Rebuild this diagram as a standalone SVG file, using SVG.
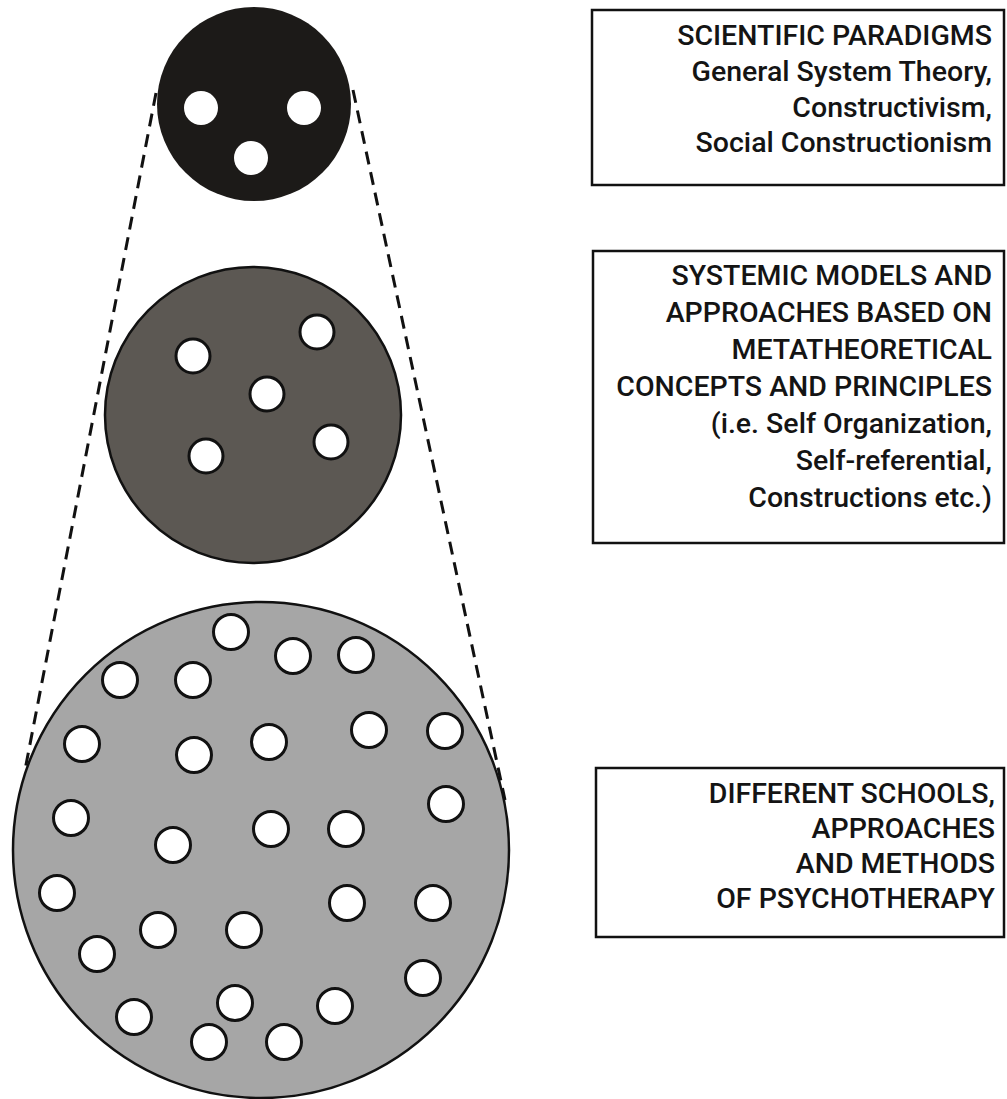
<svg xmlns="http://www.w3.org/2000/svg" width="1007" height="1099" viewBox="0 0 1007 1099">
<style>
.dot{fill:#ffffff;stroke:#111;stroke-width:3}
.box{fill:#ffffff;stroke:#111;stroke-width:2.5}
.lbl{font-family:Roboto,"Liberation Sans",sans-serif;font-size:28.5px;font-weight:500;fill:#141414;text-anchor:end}
.dash{fill:none;stroke:#111;stroke-width:3;stroke-dasharray:13 8}
</style>
<rect width="1007" height="1099" fill="#ffffff"/>
<g id="connectors">
<line class="dash" x1="156" y1="93" x2="25" y2="770"/>
<line class="dash" x1="353" y1="90" x2="505" y2="800"/>
</g>
<g id="level-paradigms">
<circle cx="254" cy="104" r="97" fill="#1c1a18"/>
<circle cx="201" cy="108" r="17" fill="#fff"/>
<circle cx="304" cy="108" r="17" fill="#fff"/>
<circle cx="251" cy="158" r="17" fill="#fff"/>
</g>
<g id="level-models">
<circle cx="253" cy="415" r="148" fill="#5c5853" stroke="#111" stroke-width="2.5"/>
<circle class="dot" cx="193" cy="356" r="17"/>
<circle class="dot" cx="317" cy="332" r="17"/>
<circle class="dot" cx="267" cy="394" r="17"/>
<circle class="dot" cx="206" cy="456" r="17"/>
<circle class="dot" cx="331" cy="442" r="17"/>
</g>
<g id="level-schools">
<circle cx="261" cy="850" r="248" fill="#a6a6a6" stroke="#111" stroke-width="2.5"/>
<circle class="dot" cx="231" cy="632" r="17.5"/>
<circle class="dot" cx="293" cy="656" r="17.5"/>
<circle class="dot" cx="356" cy="655" r="17.5"/>
<circle class="dot" cx="120" cy="680" r="17.5"/>
<circle class="dot" cx="193" cy="680" r="17.5"/>
<circle class="dot" cx="82" cy="744" r="17.5"/>
<circle class="dot" cx="194" cy="755" r="17.5"/>
<circle class="dot" cx="269" cy="742" r="17.5"/>
<circle class="dot" cx="369" cy="730" r="17.5"/>
<circle class="dot" cx="445" cy="731" r="17.5"/>
<circle class="dot" cx="446" cy="804" r="17.5"/>
<circle class="dot" cx="71" cy="818" r="17.5"/>
<circle class="dot" cx="173" cy="845" r="17.5"/>
<circle class="dot" cx="271" cy="829" r="17.5"/>
<circle class="dot" cx="346" cy="829" r="17.5"/>
<circle class="dot" cx="57" cy="893" r="17.5"/>
<circle class="dot" cx="347" cy="903" r="17.5"/>
<circle class="dot" cx="433" cy="903" r="17.5"/>
<circle class="dot" cx="158" cy="930" r="17.5"/>
<circle class="dot" cx="244" cy="930" r="17.5"/>
<circle class="dot" cx="97" cy="954" r="17.5"/>
<circle class="dot" cx="423" cy="978" r="17.5"/>
<circle class="dot" cx="235" cy="1003" r="17.5"/>
<circle class="dot" cx="335" cy="1006" r="17.5"/>
<circle class="dot" cx="134" cy="1017" r="17.5"/>
<circle class="dot" cx="209" cy="1042" r="17.5"/>
<circle class="dot" cx="284" cy="1042" r="17.5"/>
</g>
<g id="label-paradigms">
<rect class="box" x="592" y="10" width="412" height="175"/>
<text class="lbl" x="992" y="45">SCIENTIFIC PARADIGMS</text>
<text class="lbl" x="992" y="81">General System Theory,</text>
<text class="lbl" x="992" y="117">Constructivism,</text>
<text class="lbl" x="992" y="152">Social Constructionism</text>
</g>
<g id="label-models">
<rect class="box" x="593" y="251" width="411" height="292"/>
<text class="lbl" x="992" y="285">SYSTEMIC MODELS AND</text>
<text class="lbl" x="992" y="322">APPROACHES BASED ON</text>
<text class="lbl" x="992" y="359">METATHEORETICAL</text>
<text class="lbl" x="992" y="396">CONCEPTS AND PRINCIPLES</text>
<text class="lbl" x="992" y="433">(i.e. Self Organization,</text>
<text class="lbl" x="992" y="470">Self-referential,</text>
<text class="lbl" x="992" y="507">Constructions etc.)</text>
</g>
<g id="label-schools">
<rect class="box" x="596" y="768" width="408" height="169"/>
<text class="lbl" x="995" y="803">DIFFERENT SCHOOLS,</text>
<text class="lbl" x="995" y="838">APPROACHES</text>
<text class="lbl" x="995" y="873">AND METHODS</text>
<text class="lbl" x="995" y="908">OF PSYCHOTHERAPY</text>
</g>
</svg>
